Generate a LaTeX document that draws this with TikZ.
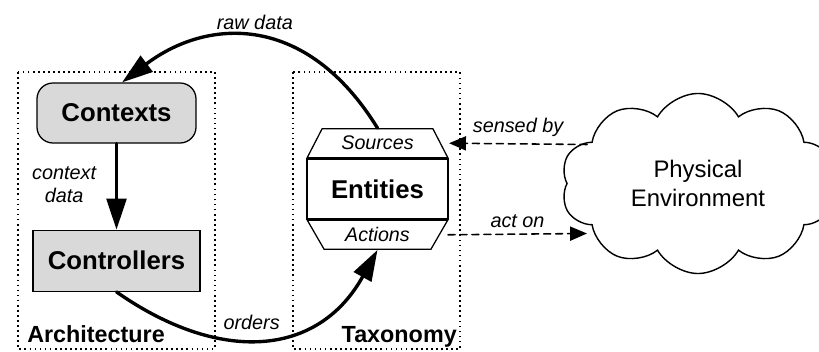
\documentclass[tikz,border=0pt]{standalone}
\usepackage{fontspec}
\setmainfont{Liberation Sans}
\usepackage{tikz}
\usetikzlibrary{arrows.meta,shapes.geometric,shapes.symbols,positioning}

\begin{document}
\begin{tikzpicture}
		[x=0.025cm,y=0.025cm,line cap=round,
		%Styles
		group box/.style={line width=1.1pt,dash pattern=on 1.2pt off 2.4pt,line cap=butt},
		group label/.style={font=\fontsize{16.6}{19}\selectfont\bfseries,inner sep=0pt},
		main node/.style={draw,line width=0.9pt,fill=boxgray,font=\fontsize{18.3}{21}\selectfont\bfseries},
		entity part/.style={draw,line width=0.9pt,trapezium,trapezium angle=55,trapezium stretches,
			minimum width=3.525cm,minimum height=0.725cm,inner sep=0pt,font=\fontsize{14}{16}\selectfont\itshape},
		info text/.style={font=\fontsize{14.1}{16.6}\selectfont\itshape},
		flow/.style={line width=2.4pt,-{Triangle[length=22pt,width=14pt]}},
		signal/.style={line width=1.1pt,dash pattern=on 5pt off 3.5pt,-{Triangle[length=12pt,width=10pt]}}
		]
		
		%Colors
		\colorlet{boxgray}{gray!30}	%filled boxes
		
		\useasboundingbox (0,0) rectangle (819,-352);
		\clip (0,0) rectangle (819,-352);
		
		%The groups
		\draw[group box] (18,-72) rectangle (215,-349);
		\draw[group box] (293,-72) rectangle (460,-349);
		\node[group label,anchor=base west] (archlabel) at (27,-343) {Architecture};
		\node[group label,anchor=base east] (taxlabel) at (457,-343) {Taxonomy};
		
		%The graphic
		\node[main node,rounded corners=0.4cm,minimum width=3.975cm,minimum height=1.5cm] (ctx) at (116.5,-113) {Contexts};
		\node[main node,minimum width=4.175cm,minimum height=1.525cm,below=2.15cm of ctx] (ctrl) {Controllers};
		
		\node[main node,fill=white,minimum width=3.525cm,minimum height=1.5cm] (ent) at (377.5,-189) {Entities};
		\node[entity part,above=0pt of ent] (src) {Sources};
		\node[entity part,shape border rotate=180,below=0pt of ent] (act) {Actions};
		
		\node[cloud,cloud ignores aspect,draw,line width=1pt,cloud puffs=10,cloud puff arc=120,
			minimum width=6.85cm,minimum height=4.5cm,align=center,font=\fontsize{17}{20}\selectfont]
			(env) at (698,-183.5) {Physical\\Environment};
		\coordinate (sensor) at (587,-144.5);
		\coordinate (actor) at (587,-233.5);
		
		\path[flow]
			(ctx) edge node[info text,left=0.35cm,yshift=0.05cm,align=center] {context\\data} (ctrl)
			(ctrl.south) edge[out=-35,in=-119,looseness=1.2] node[info text,pos=0.46,above=2pt] {orders} (act.south);
		\draw[flow] (src.north) .. controls (306,-12) and (207,-18) .. ([xshift=0.14cm]ctx.north)
			node[info text,pos=0.5,above=1pt] (rawlabel) {raw data};
			
		\path[signal]
			(sensor) edge node[info text,above=1pt] {sensed by} ([xshift=0.2cm]src.east)
			([xshift=0.2cm]act.east) edge node[info text,above=1pt] {act on} (actor);
	\end{tikzpicture}
\end{document}
